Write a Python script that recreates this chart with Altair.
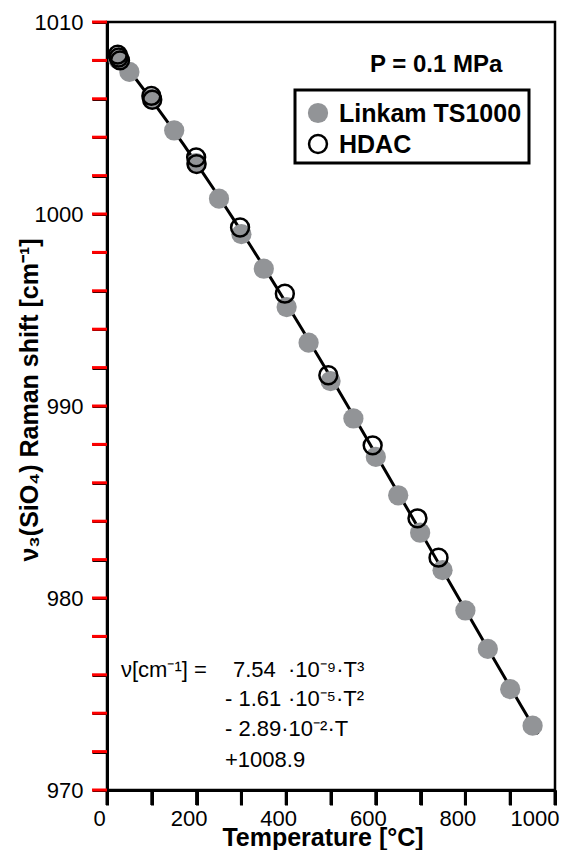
import altair as alt
import pandas as pd

# ---- data ----
linkam_T = [25, 50, 100, 150, 199, 250, 300, 350, 401, 450, 499, 550, 600, 650, 699, 749, 800, 850, 900, 950]
linkam_nu = [1008.05, 1007.4, 1006.0, 1004.35, 1002.65, 1000.8, 998.95, 997.15, 995.15, 993.3,
             991.3, 989.35, 987.35, 985.35, 983.4, 981.45, 979.35, 977.35, 975.25, 973.35]
hdac_T = [24, 26, 29, 99, 101, 199, 200, 297, 397, 494, 593, 693, 740]
hdac_nu = [1008.3, 1008.15, 1008.0, 1006.15, 1005.95, 1002.95, 1002.6, 999.3, 995.85, 991.6,
           987.95, 984.15, 982.1]

series_names = ["Linkam TS1000", "HDAC"]
x_ticks = list(range(0, 1001, 100))
y_ticks = list(range(970, 1011, 2))
pressure_label = "P = 0.1 MPa"
x_title = "Temperature [°C]"
y_title = "ν₃(SiO₄) Raman shift [cm⁻¹]"
eq_left = "ν[cm⁻¹] ="
eq_coef = ["7.54", "- 1.61"]
eq_pow = ["·10⁻⁹·T³", "·10⁻⁵·T²"]
eq_rest = ["- 2.89·10⁻²·T", "+1008.9"]

GRAY = "#929497"
FONT = "Liberation Sans"

df_l = pd.DataFrame({"T": linkam_T, "nu": linkam_nu, "src": series_names[0]})
df_h = pd.DataFrame({"T": hdac_T, "nu": hdac_nu, "src": series_names[1]})
df_all = pd.concat([df_l, df_h], ignore_index=True)

xs = alt.Scale(domain=[0, 1000], nice=False, zero=False)
ys = alt.Scale(domain=[970, 1010], nice=False, zero=False)

common = dict(format="d", title=None, gridOpacity=0, tickSize=15, tickWidth=3,
              tickColor="black", domainColor="black", domainWidth=3,
              labelFontSize=22, labelColor="black", labelFont=FONT, labelFlush=False,
              labelOverlap=False)
xaxis = alt.Axis(values=x_ticks, labelExpr="datum.value % 200 === 0 ? datum.label : ''",
                 labelPadding=3,
                 labelAlign={"condition": {"test": "datum.value === 1000", "value": "right"}, "value": "center"},
                 labelOffset={"condition": {"test": "datum.value === 1000", "value": 4}, "value": -8},
                 **common)
yaxis = alt.Axis(values=y_ticks, labelExpr="datum.value % 10 === 0 ? datum.label : ''",
                 labelPadding=9, **common)

X = alt.X("T:Q", scale=xs, axis=xaxis)
Y = alt.Y("nu:Q", scale=ys, axis=yaxis)

fit = alt.Chart(df_all).transform_regression(
    "T", "nu", method="poly", order=3, extent=[20, 962]
).mark_line(color="black", strokeWidth=3).encode(x=X, y=Y)

gray_pts = alt.Chart(df_l).mark_point(filled=True, color=GRAY, opacity=1, size=410).encode(x=X, y=Y)
open_pts = alt.Chart(df_h).mark_point(filled=False, color="black", strokeWidth=2.5, opacity=1,
                                      size=320).encode(x=X, y=Y)

# tick marks drawn as rules through the same scales
xtick_rules = alt.Chart(pd.DataFrame({"v": x_ticks})).mark_rule(color="black", strokeWidth=3).encode(
    x=alt.X("v:Q", scale=xs, axis=xaxis), y=alt.value(768), y2=alt.value(783))
ytick_rules = alt.Chart(pd.DataFrame({"v": y_ticks})).mark_rule(color="red", strokeWidth=3).encode(
    y=alt.Y("v:Q", scale=ys, axis=yaxis), x=alt.value(-15), x2=alt.value(0))

one = pd.DataFrame({"a": [0]})


def txt(s, x, y, size, bold=False, align="left", baseline="middle", angle=0):
    kw = dict(text=s, fontSize=size, font=FONT, color="black", align=align, baseline=baseline,
              fontWeight="bold" if bold else "normal")
    if angle:
        kw["angle"] = angle
    return alt.Chart(one).mark_text(**kw).encode(x=alt.value(x), y=alt.value(y))


legend_box = alt.Chart(one).mark_rect(fill="white", stroke="black", strokeWidth=3).encode(
    x=alt.value(188), x2=alt.value(422), y=alt.value(68), y2=alt.value(141)
)
leg_gray = alt.Chart(one).mark_point(filled=True, color=GRAY, opacity=1, size=410).encode(
    x=alt.value(211), y=alt.value(91))
leg_open = alt.Chart(one).mark_point(filled=False, color="black", strokeWidth=2.5, opacity=1,
                                     size=320).encode(x=alt.value(211), y=alt.value(122))

layers = [
    fit, gray_pts, open_pts, legend_box, leg_gray, leg_open,
    txt(series_names[0], 232, 92, 25, bold=True),
    txt(series_names[1], 232, 123, 25, bold=True),
    txt(pressure_label, 263, 43, 24, bold=True),
    txt(x_title, 216, 824, 25, bold=True, align="center", baseline="alphabetic"),
    txt(y_title, -77, 378, 25, bold=True, align="center", angle=270),
    txt(eq_left, 14, 648, 22),
    txt(eq_coef[0], 126, 648, 22),
    txt(eq_pow[0], 181, 648, 22),
    txt(eq_coef[1], 118, 677, 22),
    txt(eq_pow[1], 181, 677, 22),
    txt(eq_rest[0], 118, 707, 22),
    txt(eq_rest[1], 118, 738, 22),
    xtick_rules, ytick_rules,
]

chart = alt.layer(*layers).properties(
    width=448, height=768,
    autosize=alt.AutoSizeParams(type="none"),
    padding={"left": 99, "top": 14, "right": 5, "bottom": 60},
).configure_view(stroke="black", strokeWidth=2.5)

chart.save("out.html", embed_options={"renderer": "svg", "actions": False})
